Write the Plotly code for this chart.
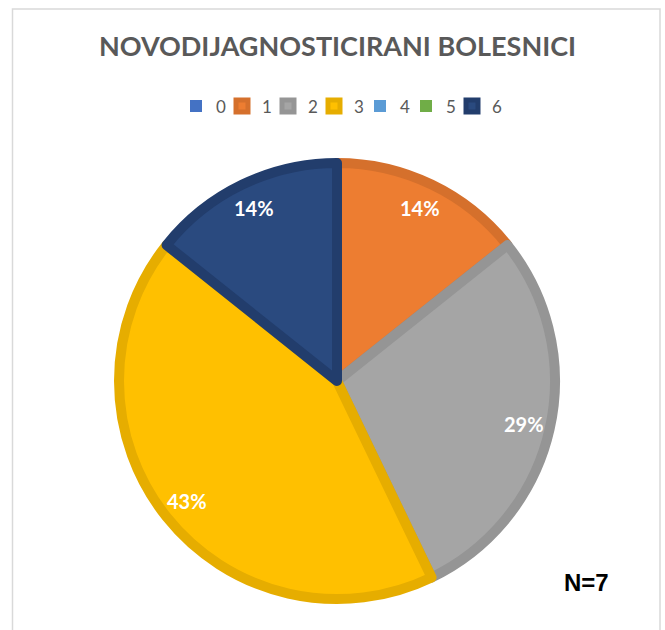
import math
import plotly.graph_objects as go

# ---- data ----
categories = ["0", "1", "2", "3", "4", "5", "6"]
counts = [0, 1, 2, 3, 0, 0, 1]
fill_colors = ["#4472C4", "#ED7D31", "#A5A5A5", "#FFC000", "#5B9BD5", "#70AD47", "#2A4A7F"]
line_colors = ["#3F67B5", "#D5702C", "#959595", "#E6AD00", "#5289C2", "#659C40", "#223D6C"]
title_text = "NOVODIJAGNOSTICIRANI BOLESNICI"
note_text = "N=7"

W, H = 665, 630
cx, cy, R = 337, 381, 218  # pie centre / radius in px
label_r = 0.86 * 223

total = sum(counts)
line_widths = [10 if v > 0 else 0 for v in counts]

fig = go.Figure(go.Pie(
    labels=categories,
    values=counts,
    sort=False,
    direction="clockwise",
    rotation=0,
    marker=dict(colors=fill_colors, line=dict(color=line_colors, width=line_widths)),
    textinfo="none",
    hoverinfo="label+value+percent",
    domain=dict(x=[(cx - R) / W, (cx + R) / W], y=[1 - (cy + R) / H, 1 - (cy - R) / H]),
))

# invisible legend spacer so the last legend label is not clipped
fig.add_trace(go.Pie(
    labels=[" "], values=[1], sort=False, textinfo="none", hoverinfo="skip",
    marker=dict(colors=["rgba(0,0,0,0)"], line=dict(width=0)),
    domain=dict(x=[0, 0.0001], y=[0, 0.0001]),
))

# percentage labels placed at the middle angle of each slice
cum = 0
annotations = []
for v in counts:
    if v > 0:
        mid = (cum + v / 2) / total * 2 * math.pi
        px = cx + label_r * math.sin(mid)
        py = cy - label_r * math.cos(mid)
        annotations.append(dict(
            x=px / W, y=1 - py / H, xref="paper", yref="paper",
            text=f"{round(100 * v / total)}%", showarrow=False,
            font=dict(family="Lato", size=20, color="white", weight="bold"),
            xanchor="center", yanchor="middle",
        ))
    cum += v

annotations.append(dict(
    x=586 / W, y=1 - 582 / H, xref="paper", yref="paper", text=f"<b>{note_text}</b>",
    showarrow=False, font=dict(family="Liberation Sans", size=24, color="black"),
    xanchor="center", yanchor="middle",
))

fig.update_layout(
    width=W, height=H,
    margin=dict(l=0, r=0, t=0, b=0),
    paper_bgcolor="white",
    plot_bgcolor="white",
    title=dict(
        text=f"<b>{title_text}</b>", x=337.5 / W, xanchor="center",
        y=1 - 47 / H, yanchor="middle", yref="container",
        font=dict(family="Lato", size=27, color="#595959"),
    ),
    showlegend=True,
    legend=dict(
        orientation="h", x=176 / W, xanchor="left", y=1 - 106.5 / H, yanchor="middle",
        font=dict(family="Lato", size=17, color="#595959"),
        entrywidth=1, entrywidthmode="pixels",
        traceorder="normal",
    ),
    annotations=annotations,
    shapes=[dict(
        type="rect", xref="paper", yref="paper",
        x0=12.5 / W, x1=660 / W, y0=-0.05, y1=1 - 9 / H,
        line=dict(color="#D9D9D9", width=1.5), fillcolor="rgba(0,0,0,0)", layer="below",
    )],
)

fig.write_html("out.html", config={"displayModeBar": False},
               post_script="document.body.style.margin='0';")
